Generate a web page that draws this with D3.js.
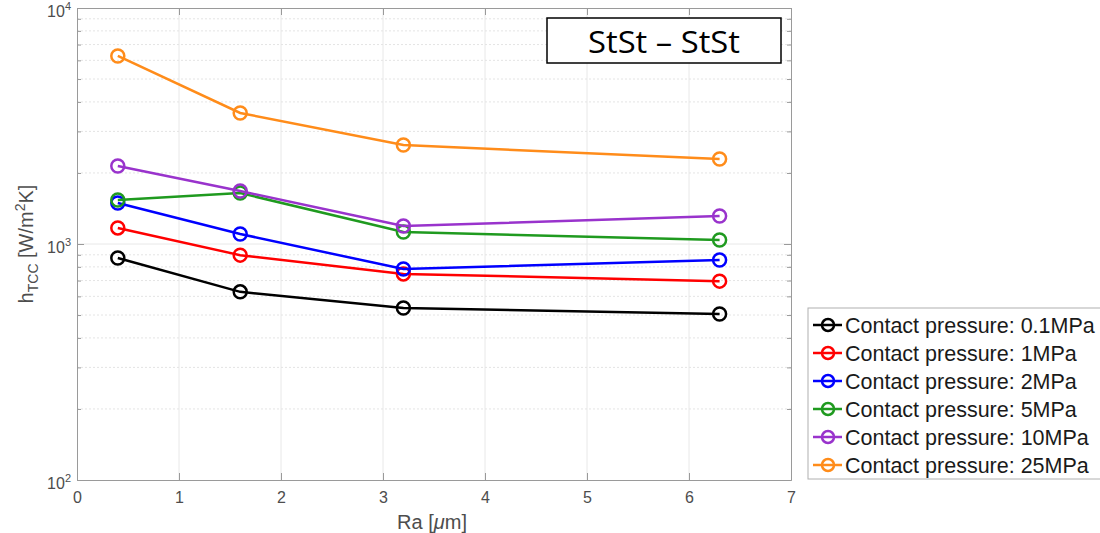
<!DOCTYPE html>
<html>
<head>
<meta charset="utf-8">
<script src="https://cdn.jsdelivr.net/npm/d3@7"></script>
<style>
  body { margin: 0; background: #fff; }
  text { font-family: "Liberation Sans", Arial, sans-serif; }
</style>
</head>
<body>
<div id="chart"></div>
<script>
// data
let ra = [0.4, 1.6, 3.2, 6.3]
let labels = ["Contact pressure: 0.1MPa", "Contact pressure: 1MPa", "Contact pressure: 2MPa",
  "Contact pressure: 5MPa", "Contact pressure: 10MPa", "Contact pressure: 25MPa"]
let p01 = [873, 627, 536, 505]
let p1 = [1170, 897, 747, 696]
let p2 = [1492, 1103, 783, 855]
let p5 = [1535, 1644, 1124, 1040]
let p10 = [2141, 1677, 1191, 1314]
let p25 = [6265, 3590, 2627, 2291]
let xTicks = [0, 1, 2, 3, 4, 5, 6, 7]
let yTicks = [100, 1000, 10000]
let colors = ["#000000", "#ff0000", "#0000ff", "#1f9a1f", "#9933cc", "#ff8c1a"]

let series = [p01, p1, p2, p5, p10, p25].map((v, i) => ({
  name: labels[i], color: colors[i],
  points: v.map((y, j) => ({ x: ra[j], y: y }))
}))

let width = 1100, height = 533
let mLeft = 77, mRight = 791, mTop = 8, mBottom = 480

let svg = d3.select("#chart").append("svg")
  .attr("width", width).attr("height", height)

let x = d3.scaleLinear().domain([0, 7]).range([mLeft, mRight])
let y = d3.scaleLog().domain([100, 10000]).range([mBottom, mTop])

// minor log values
let minor = []
for (let d = 100; d < 10000; d *= 10) {
  for (let k = 2; k <= 9; k++) minor.push(d * k)
}

let grid = svg.append("g")
grid.selectAll(".gx").data(xTicks.slice(1, -1)).enter().append("line")
  .attr("x1", d => x(d)).attr("x2", d => x(d))
  .attr("y1", mTop).attr("y2", mBottom)
  .attr("stroke", "#e8e8e8").attr("stroke-width", 1)
grid.selectAll(".gym").data(minor).enter().append("line")
  .attr("x1", mLeft).attr("x2", mRight)
  .attr("y1", d => y(d)).attr("y2", d => y(d))
  .attr("stroke", "#e4e4e4").attr("stroke-width", 1)
  .attr("stroke-dasharray", "2,2")
grid.selectAll(".gy").data([1000]).enter().append("line")
  .attr("x1", mLeft).attr("x2", mRight)
  .attr("y1", d => y(d)).attr("y2", d => y(d))
  .attr("stroke", "#e8e8e8").attr("stroke-width", 1)

// axes with inward ticks (box on)
let axisColor = "#9a9a9a"
function styleAxis(g) {
  g.select(".domain").attr("stroke", axisColor)
  g.selectAll(".tick line").attr("stroke", axisColor)
  g.selectAll(".tick text").attr("fill", "#4d4d4d").style("font-size", "16px")
}

svg.append("g").attr("transform", `translate(0,${mBottom})`)
  .call(d3.axisBottom(x).tickValues(xTicks).tickFormat(d3.format("d"))
    .tickSizeInner(-7).tickSizeOuter(0).tickPadding(12))
  .call(styleAxis)
svg.append("g").attr("transform", `translate(0,${mTop})`)
  .call(d3.axisTop(x).tickValues(xTicks).tickFormat("")
    .tickSizeInner(-7).tickSizeOuter(0))
  .call(styleAxis)

svg.append("g").attr("transform", `translate(${mLeft},0)`)
  .call(d3.axisLeft(y).tickValues(yTicks).tickFormat("")
    .tickSizeInner(-7).tickSizeOuter(0))
  .call(styleAxis)
svg.append("g").attr("transform", `translate(${mLeft},0)`)
  .call(d3.axisLeft(y).tickValues(minor).tickFormat("")
    .tickSizeInner(-4).tickSizeOuter(0))
  .call(styleAxis)
svg.append("g").attr("transform", `translate(${mRight},0)`)
  .call(d3.axisRight(y).tickValues(yTicks).tickFormat("")
    .tickSizeInner(-7).tickSizeOuter(0))
  .call(styleAxis)
svg.append("g").attr("transform", `translate(${mRight},0)`)
  .call(d3.axisRight(y).tickValues(minor).tickFormat("")
    .tickSizeInner(-4).tickSizeOuter(0))
  .call(styleAxis)

// y tick labels as 10^n
let ylab = svg.append("g")
yTicks.forEach(v => {
  let t = ylab.append("text")
    .attr("x", mLeft - 6).attr("y", y(v) + 9)
    .attr("text-anchor", "end").attr("fill", "#4d4d4d")
    .style("font-size", "16px")
  t.append("tspan").text("10")
  t.append("tspan").attr("dy", -7).style("font-size", "11px").text(Math.round(Math.log10(v)))
})

// axis titles
svg.append("text")
  .attr("x", 432).attr("y", 529)
  .attr("text-anchor", "middle").attr("fill", "#4d4d4d")
  .style("font-size", "20px")
  .html('Ra [<tspan font-style="italic">μ</tspan>m]')

let yt = svg.append("text")
  .attr("transform", "translate(33,244) rotate(-90)")
  .attr("text-anchor", "middle").attr("fill", "#4d4d4d")
  .style("font-size", "20px")
yt.append("tspan").text("h")
yt.append("tspan").attr("dy", 5).style("font-size", "14px").text("TCC")
yt.append("tspan").attr("dy", -5).text(" [W/m")
yt.append("tspan").attr("dy", -8).style("font-size", "14px").text("2")
yt.append("tspan").attr("dy", 8).text("K]")

// lines and markers
let line = d3.line().x(d => x(d.x)).y(d => y(d.y))
let sg = svg.selectAll(".series").data(series).enter().append("g")
sg.append("path")
  .attr("d", d => line(d.points))
  .attr("fill", "none").attr("stroke", d => d.color).attr("stroke-width", 2.5)
sg.selectAll("circle").data(d => d.points.map(p => ({ p: p, c: d.color }))).enter()
  .append("circle")
  .attr("cx", d => x(d.p.x)).attr("cy", d => y(d.p.y)).attr("r", 6.5)
  .attr("fill", "none").attr("stroke", d => d.c).attr("stroke-width", 2.5)

// title box
svg.append("rect")
  .attr("x", 547).attr("y", 18).attr("width", 234).attr("height", 45)
  .attr("fill", "#fff").attr("stroke", "#000").attr("stroke-width", 1.5)
svg.append("text")
  .attr("x", 588).attr("y", 53)
  .attr("textLength", 152).attr("lengthAdjust", "spacingAndGlyphs")
  .style("font-family", "'Open Sans', sans-serif").style("font-size", "31px")
  .attr("fill", "#000")
  .text("StSt – StSt")

// legend
let lg = svg.append("g")
lg.append("rect")
  .attr("x", 808).attr("y", 308).attr("width", 300).attr("height", 171)
  .attr("fill", "#fff").attr("stroke", "#b0b0b0").attr("stroke-width", 1)
let items = lg.selectAll(".item").data(series).enter().append("g")
  .attr("transform", (d, i) => `translate(0,${325 + i * 28})`)
items.append("line")
  .attr("x1", 813).attr("x2", 842).attr("y1", 0).attr("y2", 0)
  .attr("stroke", d => d.color).attr("stroke-width", 2.5)
items.append("circle")
  .attr("cx", 828).attr("cy", 0).attr("r", 6)
  .attr("fill", "none").attr("stroke", d => d.color).attr("stroke-width", 2.5)
items.append("text")
  .attr("x", 845).attr("y", 7.5)
  .style("font-size", "21.5px").attr("fill", "#1a1a1a")
  .text(d => d.name)
</script>
</body>
</html>
